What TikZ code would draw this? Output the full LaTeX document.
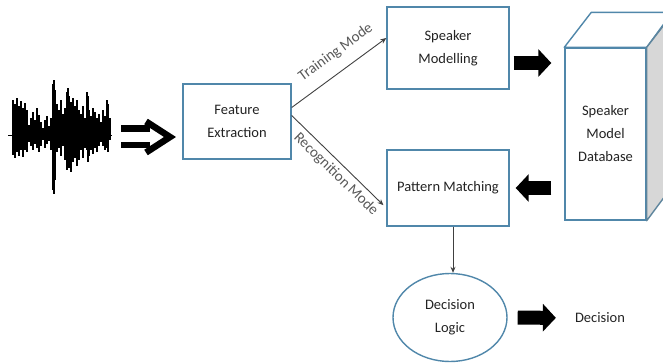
\documentclass[tikz,border=0pt]{standalone}
\usepackage{fontspec}
\setmainfont{Carlito}
\usetikzlibrary{arrows.meta,shapes.geometric}
\definecolor{boxblue}{RGB}{80,135,170}
\definecolor{txt}{RGB}{35,35,35}
\definecolor{sidegray}{RGB}{215,215,215}
\begin{document}
\begin{tikzpicture}[x=1pt,y=-1pt,
  font=\fontsize{14.5}{23}\selectfont, text=txt,
  blockbox/.style={draw=boxblue, line width=1.4pt, fill=white, align=center, inner sep=0pt},
  thinarrow/.style={draw=black!75, line width=0.9pt, -{Stealth[length=6pt,width=5pt]}},
  fatarrow/.style={line width=14pt, -{Triangle[length=13pt,width=27pt]}},
  modelabel/.style={text=black!65, font=\fontsize{15}{16}\selectfont, sloped}]
\useasboundingbox (0,0) rectangle (663,362);

% speech waveform
\draw[line width=0.9pt] (8,135) -- (112,135);
\foreach \x/\t/\b in {13/100/155,15/104/158,17/98/152,19/106/156,21/101/150,23/108/157,
  25/103/148,27/110/152,29/125/142,31/118/146,33/112/150,35/120/144,37/108/148,
  39/115/152,41/122/146,43/128/140,45/120/148,47/116/144,49/126/141,51/118/150,
  53/84/190,54/80/194,55/90/180,57/104/152,59/110/148,61/100/156,63/114/146,
  65/108/160,67/92/170,68/88/165,69/96/168,71/102/172,73/98/162,75/106/158,
  77/100/166,79/110/160,81/114/150,83/106/158,85/118/148,87/92/150,88/96/162,
  89/110/156,91/116/150,93/108/154,95/112/148,97/118/152,99/114/146,101/122/142,
  103/110/146,105/116/150,107/100/148,108/104/152,110/118/140}
  \draw[line width=2.8pt] (\x,\t) -- (\x,\b);
\fill (13,112) rectangle (28,150);
\fill (53,112) rectangle (56,160);
\fill (66,115) rectangle (78,155);

% hollow double arrow into the feature extractor
\draw[line width=6.5pt] (121,128.5) -- (150,128.5) (121,145) -- (150,145);
\draw[line width=6.5pt, line join=miter] (146,121.5) -- (170,137) -- (146,152.5);

% blocks
\node[blockbox, minimum width=108, minimum height=75] (fe) at (237,121.5) {Feature\\Extraction};
\node[blockbox, minimum width=122, minimum height=82] (sm) at (448,48) {Speaker\\Modelling};
\node[blockbox, minimum width=122, minimum height=76] (pm) at (448,188) {Pattern Matching};
\node[draw=boxblue, line width=1.4pt, ellipse, minimum width=114, minimum height=88, align=center, inner sep=0pt] (dl) at (450,317.5) {Decision\\Logic};
\node[inner sep=0pt] (dec) at (600,318) {Decision};

% database cube
\node[blockbox, minimum width=81, minimum height=172] (db) at (605.5,134) {Speaker\\Model\\Database};
\draw[draw=boxblue, line width=1.4pt, line join=round, fill=white]
  (db.north west) -- ++(27,-35) -- ++(81,0) -- (db.north east) -- cycle;
\draw[draw=boxblue!70!gray, line width=1.4pt, line join=round, fill=sidegray]
  (db.north east) -- ++(27,-35) -- ++(0,172) -- (db.south east) -- cycle;

% mode connectors
\draw[thinarrow] ([yshift=14pt]fe.east) -- ([yshift=10pt]sm.west)
  node[modelabel, pos=0.58, above=8pt] {Training Mode};
\draw[thinarrow, shorten >=4pt] ([yshift=6pt]fe.east) -- ([yshift=-20pt]pm.west)
  node[modelabel, pos=0.55, below=1pt] {Recognition Mode};
\draw[thinarrow] ([xshift=5pt]pm.south) -- ([xshift=5pt]pm.south |- dl.north);

% block arrows
\draw[fatarrow, shorten <=4pt, shorten >=13pt] ([yshift=-15pt]sm.east) -- ([yshift=-15pt]sm.east -| db.west);
\draw[fatarrow, shorten <=13pt, shorten >=6pt] (db.west |- pm.east) -- (pm.east);
\draw[fatarrow, shorten <=10pt, shorten >=19pt] (dl.east) -- (dec.west);
\end{tikzpicture}
\end{document}
